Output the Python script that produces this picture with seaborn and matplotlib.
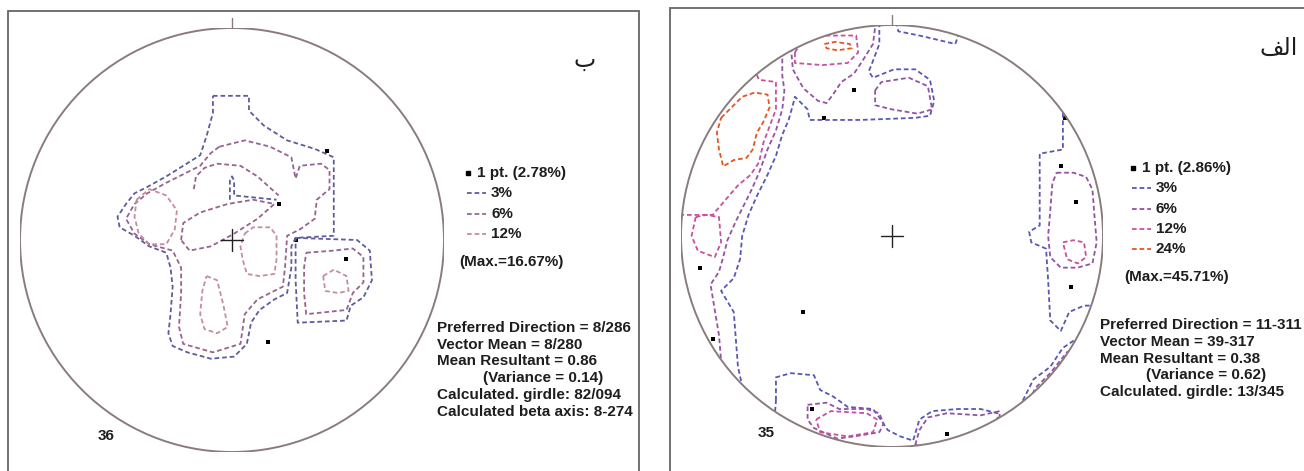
import numpy as np
import pandas as pd
import seaborn as sns
import matplotlib.pyplot as plt
from matplotlib.patches import Circle, Rectangle
from matplotlib.lines import Line2D

W, H = 1304, 471

# ---- left net (36 readings), unit-circle coordinates ----
L3_MAIN = [(-0.09, 0.68), (0.08, 0.68), (0.08, 0.61), (0.15, 0.54), (0.26, 0.47), (0.39, 0.43),
           (0.48, 0.39), (0.48, 0.02), (0.30, 0.01), (0.28, -0.03), (0.28, -0.13), (0.26, -0.25),
           (0.20, -0.28), (0.13, -0.33), (0.09, -0.39), (0.07, -0.49), (0.01, -0.55), (-0.10, -0.56),
           (-0.21, -0.53), (-0.28, -0.50), (-0.30, -0.44), (-0.29, -0.35), (-0.28, -0.22), (-0.29, -0.13),
           (-0.31, -0.06), (-0.39, -0.03), (-0.46, 0.02), (-0.53, 0.06), (-0.54, 0.11), (-0.50, 0.17),
           (-0.46, 0.22), (-0.40, 0.25), (-0.31, 0.30), (-0.23, 0.35), (-0.15, 0.40), (-0.12, 0.49),
           (-0.09, 0.60)]
L3_EAST = [(0.30, 0.01), (0.59, 0.00), (0.65, -0.05), (0.66, -0.19), (0.62, -0.27), (0.56, -0.31),
           (0.54, -0.38), (0.31, -0.39), (0.30, -0.19)]
L3_SPUR = [(-0.01, 0.19), (-0.01, 0.28), (0.00, 0.30), (0.01, 0.28), (0.01, 0.21), (0.21, 0.19)]
L6_MAIN = [(-0.06, 0.44), (0.06, 0.47), (0.18, 0.44), (0.28, 0.39), (0.30, 0.29), (0.32, 0.35),
           (0.42, 0.36), (0.46, 0.33), (0.46, 0.24), (0.40, 0.19), (0.39, 0.10), (0.32, 0.05),
           (0.26, 0.02), (0.25, -0.13), (0.24, -0.22), (0.12, -0.28), (0.06, -0.35), (0.04, -0.49),
           (-0.09, -0.53), (-0.23, -0.49), (-0.25, -0.41), (-0.24, -0.25), (-0.24, -0.13), (-0.28, -0.05),
           (-0.39, -0.02), (-0.46, 0.03), (-0.50, 0.10), (-0.46, 0.17), (-0.40, 0.22), (-0.31, 0.27),
           (-0.21, 0.32), (-0.15, 0.35), (-0.10, 0.41)]
L6_ARCH = [(-0.18, 0.24), (-0.17, 0.30), (-0.13, 0.34), (-0.07, 0.36), (0.04, 0.35), (0.12, 0.30),
           (0.22, 0.21)]
L6_CENTRE = [(-0.24, 0.00), (-0.23, 0.08), (-0.15, 0.13), (-0.02, 0.17), (0.10, 0.19), (0.20, 0.17),
             (0.12, 0.10), (0.01, 0.03), (-0.10, -0.03), (-0.20, -0.05)]
L6_EAST = [(0.35, -0.06), (0.48, -0.05), (0.57, -0.04), (0.62, -0.08), (0.62, -0.20), (0.57, -0.25),
           (0.54, -0.33), (0.35, -0.35), (0.34, -0.25), (0.34, -0.13)]
L12_WEST = [(-0.45, 0.19), (-0.39, 0.24), (-0.31, 0.21), (-0.26, 0.14), (-0.27, 0.05), (-0.31, -0.02),
            (-0.39, -0.02), (-0.44, 0.03), (-0.46, 0.11)]
L12_MID = [(0.06, 0.03), (0.10, 0.06), (0.18, 0.06), (0.21, 0.02), (0.21, -0.09), (0.20, -0.16),
           (0.13, -0.17), (0.07, -0.16), (0.05, -0.09), (0.04, -0.03)]
L12_SOUTH = [(-0.12, -0.17), (-0.07, -0.19), (-0.04, -0.31), (-0.02, -0.41), (-0.07, -0.44),
             (-0.13, -0.42), (-0.15, -0.35), (-0.14, -0.24)]
L12_EAST = [(0.43, -0.17), (0.48, -0.14), (0.54, -0.17), (0.55, -0.24), (0.50, -0.25), (0.44, -0.24)]
LEFT_POINTS = [(0.45, 0.42), (0.22, 0.17), (0.30, 0.00), (0.54, -0.09), (0.17, -0.48)]

# ---- right net (35 readings) ----
R3_NW = [(-0.06, 1.12), (-0.06, 0.91), (-0.09, 0.83), (-0.11, 0.78), (-0.09, 0.75), (0.01, 0.79),
         (0.11, 0.79), (0.18, 0.74), (0.20, 0.64), (0.18, 0.57), (0.11, 0.56), (-0.15, 0.55),
         (-0.39, 0.55), (-0.40, 0.60), (-0.43, 0.63), (-0.46, 0.66), (-0.47, 0.62), (-0.49, 0.55),
         (-0.52, 0.48), (-0.55, 0.38), (-0.59, 0.29), (-0.64, 0.19), (-0.68, 0.10), (-0.71, 0.00),
         (-0.72, -0.11), (-0.75, -0.20), (-0.81, -0.26), (-0.75, -0.36), (-0.74, -0.49), (-0.73, -0.62),
         (-0.71, -0.71), (-1.15, -0.78), (-1.15, 1.12)]
R3_N = [(0.01, 1.05), (0.03, 0.97), (0.13, 0.95), (0.30, 0.91), (0.35, 1.05)]
R3_E = [(0.81, 0.62), (0.81, 0.41), (0.70, 0.39), (0.70, 0.05), (0.65, 0.02), (0.66, -0.03),
        (0.73, -0.06), (0.74, -0.21), (0.75, -0.40), (0.80, -0.45), (0.84, -0.36), (0.91, -0.33),
        (1.08, -0.33), (1.08, 0.64)]
R3_SE = [(0.62, -0.78), (0.67, -0.68), (0.75, -0.62), (0.81, -0.53), (0.87, -0.49), (1.08, -0.49),
         (1.08, -0.87)]
R3_S = [(-0.55, -0.78), (-0.55, -0.67), (-0.48, -0.65), (-0.37, -0.66), (-0.34, -0.73), (-0.28, -0.76),
        (-0.21, -0.81), (-0.09, -0.82), (-0.06, -0.86), (-0.02, -0.92), (0.04, -0.95), (0.10, -0.97),
        (0.13, -0.87), (0.19, -0.83), (0.31, -0.82), (0.42, -0.82), (0.50, -0.84), (0.51, -1.16),
        (-0.58, -1.16)]
R6_N = [(-0.44, 1.07), (-0.48, 0.91), (-0.47, 0.79), (-0.42, 0.70), (-0.35, 0.64), (-0.31, 0.63),
        (-0.28, 0.67), (-0.24, 0.73), (-0.18, 0.77), (-0.14, 0.83), (-0.09, 0.91), (-0.07, 1.07)]
R6_HEX = [(-0.08, 0.69), (-0.05, 0.73), (0.08, 0.75), (0.17, 0.71), (0.19, 0.60), (0.12, 0.58),
          (0.00, 0.60), (-0.08, 0.62)]
R6_W = [(-0.53, 1.02), (-0.52, 0.84), (-0.52, 0.76), (-0.51, 0.69), (-0.52, 0.60), (-0.55, 0.50),
        (-0.59, 0.41), (-0.63, 0.30), (-0.67, 0.21), (-0.71, 0.13), (-0.74, 0.07), (-0.78, -0.02),
        (-0.80, -0.10), (-0.82, -0.17), (-0.86, -0.23), (-0.84, -0.35), (-0.82, -0.47), (-0.81, -0.59),
        (-1.15, -0.68), (-1.15, 1.02)]
R6_E = [(0.78, 0.30), (0.86, 0.30), (0.92, 0.28), (0.95, 0.22), (0.96, 0.09), (0.97, -0.03),
        (0.95, -0.13), (0.88, -0.15), (0.80, -0.15), (0.75, -0.10), (0.74, 0.00), (0.75, 0.12),
        (0.76, 0.25)]
R6_SE = [(0.65, -0.78), (0.68, -0.72), (0.75, -0.65), (0.83, -0.55), (0.89, -0.52), (1.08, -0.54),
         (1.08, -0.87)]
R6_S = [(-0.40, -0.80), (-0.31, -0.79), (-0.25, -0.82), (-0.12, -0.82), (-0.06, -0.84), (-0.04, -0.89),
        (-0.06, -0.93), (-0.18, -0.95), (-0.26, -0.96), (-0.37, -0.91), (-0.40, -0.87)]
R6_SSE = [(0.11, -0.99), (0.13, -0.92), (0.17, -0.86), (0.26, -0.84), (0.42, -0.85), (0.51, -0.83),
          (0.51, -1.06)]
R12_N = [(-0.46, 0.87), (-0.43, 0.92), (-0.36, 0.95), (-0.17, 0.95), (-0.16, 0.87), (-0.21, 0.82),
         (-0.33, 0.81), (-0.46, 0.82)]
R12_NW = [(-0.67, 0.83), (-0.63, 0.74), (-0.55, 0.73), (-0.55, 0.60), (-0.58, 0.52), (-0.61, 0.44),
          (-0.63, 0.35), (-0.67, 0.29), (-0.73, 0.24), (-0.79, 0.17), (-0.85, 0.10), (-1.15, 0.10),
          (-1.15, 0.83)]
R12_W = [(-0.93, 0.09), (-0.88, 0.10), (-0.82, 0.09), (-0.81, -0.03), (-0.84, -0.10), (-0.92, -0.07),
         (-0.95, 0.00)]
R12_E = [(0.81, -0.03), (0.86, -0.02), (0.91, -0.03), (0.92, -0.10), (0.88, -0.13), (0.83, -0.11)]
R12_S = [(-0.36, -0.87), (-0.29, -0.83), (-0.12, -0.84), (-0.07, -0.87), (-0.09, -0.93), (-0.21, -0.95),
         (-0.34, -0.93)]
R24_N = [(-0.32, 0.91), (-0.27, 0.92), (-0.20, 0.91), (-0.19, 0.89), (-0.26, 0.88), (-0.31, 0.89)]
R24_NW = [(-0.81, 0.56), (-0.76, 0.61), (-0.71, 0.66), (-0.65, 0.68), (-0.59, 0.67), (-0.58, 0.61),
          (-0.61, 0.54), (-0.64, 0.49), (-0.66, 0.41), (-0.69, 0.37), (-0.75, 0.36), (-0.80, 0.33),
          (-0.82, 0.41), (-0.83, 0.49)]
RIGHT_POINTS = [(-0.18, 0.69), (-0.32, 0.56), (-0.91, -0.15), (0.82, 0.56), (0.80, 0.33), (0.87, 0.16),
                (0.85, -0.24), (-0.42, -0.36), (-0.85, -0.49), (-0.38, -0.82), (0.26, -0.94)]

LEFT_CONTOURS = [('3%', L3_MAIN, True), ('3%', L3_EAST, True), ('3%', L3_SPUR, False),
                 ('6%', L6_MAIN, True), ('6%', L6_ARCH, False), ('6%', L6_CENTRE, True),
                 ('6%', L6_EAST, True), ('12%', L12_WEST, True), ('12%', L12_MID, True),
                 ('12%', L12_SOUTH, True), ('12%', L12_EAST, True)]
RIGHT_CONTOURS = [('3%', R3_NW, True), ('3%', R3_N, True), ('3%', R3_E, True), ('3%', R3_SE, True),
                  ('3%', R3_S, True), ('6%', R6_N, True), ('6%', R6_HEX, True), ('6%', R6_W, True),
                  ('6%', R6_E, True), ('6%', R6_SE, True), ('6%', R6_S, True), ('6%', R6_SSE, True),
                  ('12%', R12_N, True), ('12%', R12_NW, True), ('12%', R12_W, True), ('12%', R12_E, True),
                  ('12%', R12_S, True), ('24%', R24_N, True), ('24%', R24_NW, True)]

LEFT_LEVELS = ['3%', '6%', '12%']
RIGHT_LEVELS = ['3%', '6%', '12%', '24%']
LEFT_COLORS = {'3%': '#5e5c9c', '6%': '#96648f', '12%': '#c48e9c'}
RIGHT_COLORS = {'3%': '#5858b4', '6%': '#9352a6', '12%': '#c8509c', '24%': '#e65422'}

LEFT_STATS = ['Preferred Direction = 8/286', 'Vector Mean = 8/280', 'Mean Resultant = 0.86',
              '(Variance = 0.14)', 'Calculated. girdle: 82/094', 'Calculated beta axis: 8-274']
RIGHT_STATS = ['Preferred Direction = 11-311', 'Vector Mean = 39-317', 'Mean Resultant = 0.38',
               '(Variance = 0.62)', 'Calculated. girdle: 13/345']


def contour_table(contours):
    rows = []
    for cid, (level, pts, closed) in enumerate(contours):
        if closed:
            pts = pts + pts[:1]
        for k, (x, y) in enumerate(pts):
            rows.append({'cid': cid, 'level': level, 'order': k, 'x': x, 'y': y})
    return pd.DataFrame(rows)


def fx(px):
    return px / W


def fy(py):
    return 1 - py / H


sns.set_theme(style='white')
plt.rcParams['font.family'] = ['Liberation Sans', 'DejaVu Sans']

fig = plt.figure(figsize=(W / 100, H / 100), dpi=100)
fig.patch.set_facecolor('white')


def draw_net(rect, contours, points, palette):
    ax = fig.add_axes(rect)
    df = contour_table(contours)
    sns.lineplot(data=df, x='x', y='y', units='cid', estimator=None, sort=False,
                 hue='level', palette=palette, legend=False, lw=1.3, ax=ax)
    clip = Circle((0, 0), 1, transform=ax.transData)
    for ln in ax.lines:
        ln.set_dashes([2.6, 1.6])
        ln.set_clip_path(clip)
    pts = pd.DataFrame(points, columns=['x', 'y'])
    sns.scatterplot(data=pts, x='x', y='y', color='black', marker='s', s=5, linewidth=0, ax=ax)
    ax.add_patch(Circle((0, 0), 1, fill=False, ec='#8a7c7c', lw=1.4, zorder=5))
    ax.plot([0, 0], [1, 1.048], color='#8a7c7c', lw=1.0, clip_on=False)
    ax.plot([-0.05, 0.05], [0, 0], color='#222222', lw=1.0)
    ax.plot([0, 0], [-0.05, 0.05], color='#222222', lw=1.0)
    ax.set_xlim(-1, 1)
    ax.set_ylim(-1, 1)
    ax.set_axis_off()
    return ax


# panel frames
fig.add_artist(Rectangle((fx(8), fy(480)), fx(639) - fx(8), fy(11) - fy(480), fill=False,
                         ec='#666666', lw=1.3, transform=fig.transFigure))
fig.add_artist(Rectangle((fx(670), fy(480)), fx(1320) - fx(670), fy(8) - fy(480), fill=False,
                         ec='#666666', lw=1.3, transform=fig.transFigure))

draw_net([fx(20), fy(452), 424 / W, 424 / H], LEFT_CONTOURS, LEFT_POINTS, LEFT_COLORS)
draw_net([fx(681), fy(447), 422 / W, 422 / H], RIGHT_CONTOURS, RIGHT_POINTS, RIGHT_COLORS)

txt = dict(fontsize=11, fontweight='bold', color='#1e1e1e', va='center')


def draw_key(x0, y0, step, count, levels, colors, maxval, max_y):
    fig.add_artist(Line2D([fx(x0 + 1)], [fy(y0)], marker='s', ms=2.2, color='black', lw=0,
                          transform=fig.transFigure))
    fig.text(fx(x0 + 10), fy(y0), f'1 pt. ({count})', **txt)
    for i, lev in enumerate(levels):
        yy = y0 + step * (i + 1)
        fig.add_artist(Line2D([fx(x0), fx(x0 + 19)], [fy(yy), fy(yy)], color=colors[lev], lw=1.3,
                              dashes=[2.6, 1.6], transform=fig.transFigure))
        fig.text(fx(x0 + 24), fy(yy), lev, **txt)
    fig.text(fx(x0 - 8), fy(max_y), f'(Max.={maxval})', **txt)


draw_key(467, 173, 20.3, '2.78%', LEFT_LEVELS, LEFT_COLORS, '16.67%', 262)
draw_key(1132, 168, 20.3, '2.86%', RIGHT_LEVELS, RIGHT_COLORS, '45.71%', 277)

for i, s in enumerate(LEFT_STATS):
    x0 = 483 if s.startswith('(') else 437
    fig.text(fx(x0), fy(328 + i * 16.7), s, **txt)
for i, s in enumerate(RIGHT_STATS):
    x0 = 1146 if s.startswith('(') else 1100
    fig.text(fx(x0), fy(325 + i * 16.8), s, **txt)

fig.text(fx(106), fy(436), '36', ha='center', **txt)
fig.text(fx(766), fy(433), '35', ha='center', **txt)

# panel letters (Arabic, shaped glyphs in visual order)
fig.text(fx(585), fy(60), '\ufe8f', ha='center', va='center', fontsize=17, family=['DejaVu Sans'],
         color='#1e1e1e')
fig.text(fx(1298), fy(48), '\ufed2\ufedf\ufe8d', ha='right', va='center', fontsize=17,
         family=['DejaVu Sans'], color='#1e1e1e')

fig.savefig('out.png', dpi=100, facecolor='white')
